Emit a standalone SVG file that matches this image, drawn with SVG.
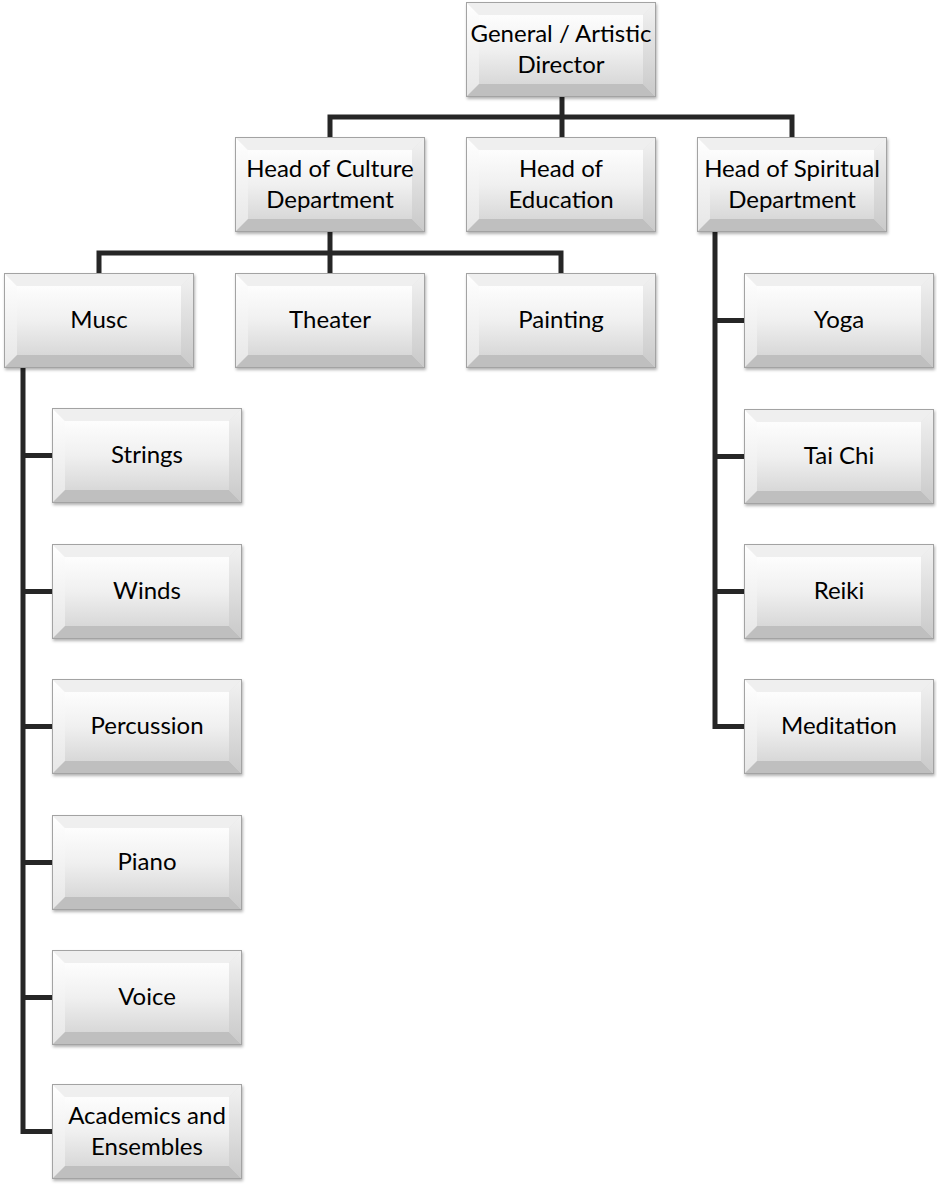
<svg xmlns="http://www.w3.org/2000/svg" xmlns:xlink="http://www.w3.org/1999/xlink" width="937" height="1186" viewBox="0 0 937 1186">
<style>
.t{font-family:Lato,"Open Sans","Liberation Sans",sans-serif;font-size:24px;fill:#000;text-anchor:middle}
.c{fill:none;stroke:#262626;stroke-width:5;stroke-linejoin:miter;stroke-linecap:butt}
</style>
<defs>
<linearGradient id="face" x1="0" y1="0" x2="0" y2="1">
<stop offset="0" stop-color="#fdfdfd"/><stop offset="0.5" stop-color="#f0f0f0"/><stop offset="1" stop-color="#d8d8d8"/>
</linearGradient>
<linearGradient id="lft" x1="0" y1="0" x2="0" y2="1">
<stop offset="0" stop-color="#ffffff"/><stop offset="1" stop-color="#e6e6e6"/>
</linearGradient>
<linearGradient id="rgt" x1="0" y1="0" x2="0" y2="1">
<stop offset="0" stop-color="#f2f2f2"/><stop offset="1" stop-color="#c9c9c9"/>
</linearGradient>
<filter id="sh" x="-10%" y="-10%" width="125%" height="135%">
<feDropShadow dx="1" dy="2" stdDeviation="1.8" flood-color="#000" flood-opacity="0.3"/>
</filter>
<symbol id="bev" width="190" height="95" overflow="visible">
<g filter="url(#sh)">
<rect x="0" y="0" width="190" height="95" fill="#e4e4e4"/>
<polygon points="0,0 190,0 177,13 13,13" fill="#efefef"/>
<polygon points="0,0 13,13 13,82 0,95" fill="url(#lft)"/>
<polygon points="190,0 190,95 177,82 177,13" fill="url(#rgt)"/>
<polygon points="0,95 190,95 177,82 13,82" fill="#bfbfbf"/>
<rect x="13" y="13" width="164" height="69" fill="url(#face)"/>
<rect x="0.5" y="0.5" width="189" height="94" fill="none" stroke="#a3a3a3" stroke-width="1"/>
</g>
</symbol>
</defs>
<rect width="937" height="1186" fill="#fff"/>
<g id="connectors">
<path class="c" d="M562,97 V137"/>
<path class="c" d="M330,137 V117 H792 V137"/>
<path class="c" d="M330,232 V273"/>
<path class="c" d="M99,273 V253 H561 V273"/>
<path class="c" d="M23,367 V1131.5 H52"/>
<path class="c" d="M23,455.5 H52 M23,591.5 H52 M23,726.5 H52 M23,862.5 H52 M23,997.5 H52"/>
<path class="c" d="M715,232 V726.5 H744"/>
<path class="c" d="M715,320.5 H744 M715,456.5 H744 M715,591.5 H744"/>
</g>
<g id="director"><use xlink:href="#bev" x="466" y="2"/><text class="t" x="561" y="42">General / Artistic</text><text class="t" x="561" y="73">Director</text></g>
<g id="culture"><use xlink:href="#bev" x="235" y="137"/><text class="t" x="330" y="177">Head of Culture</text><text class="t" x="330" y="208">Department</text></g>
<g id="education"><use xlink:href="#bev" x="466" y="137"/><text class="t" x="561" y="177">Head of</text><text class="t" x="561" y="208">Education</text></g>
<g id="spiritual"><use xlink:href="#bev" x="697" y="137"/><text class="t" x="792" y="177">Head of Spiritual</text><text class="t" x="792" y="208">Department</text></g>
<g id="musc"><use xlink:href="#bev" x="4" y="273"/><text class="t" x="99" y="328">Musc</text></g>
<g id="theater"><use xlink:href="#bev" x="235" y="273"/><text class="t" x="330" y="328">Theater</text></g>
<g id="painting"><use xlink:href="#bev" x="466" y="273"/><text class="t" x="561" y="328">Painting</text></g>
<g id="strings"><use xlink:href="#bev" x="52" y="408"/><text class="t" x="147" y="463">Strings</text></g>
<g id="winds"><use xlink:href="#bev" x="52" y="544"/><text class="t" x="147" y="599">Winds</text></g>
<g id="percussion"><use xlink:href="#bev" x="52" y="679"/><text class="t" x="147" y="734">Percussion</text></g>
<g id="piano"><use xlink:href="#bev" x="52" y="815"/><text class="t" x="147" y="870">Piano</text></g>
<g id="voice"><use xlink:href="#bev" x="52" y="950"/><text class="t" x="147" y="1005">Voice</text></g>
<g id="academics"><use xlink:href="#bev" x="52" y="1084"/><text class="t" x="147" y="1124">Academics and</text><text class="t" x="147" y="1155">Ensembles</text></g>
<g id="yoga"><use xlink:href="#bev" x="744" y="273"/><text class="t" x="839" y="328">Yoga</text></g>
<g id="taichi"><use xlink:href="#bev" x="744" y="409"/><text class="t" x="839" y="464">Tai Chi</text></g>
<g id="reiki"><use xlink:href="#bev" x="744" y="544"/><text class="t" x="839" y="599">Reiki</text></g>
<g id="meditation"><use xlink:href="#bev" x="744" y="679"/><text class="t" x="839" y="734">Meditation</text></g>
</svg>
